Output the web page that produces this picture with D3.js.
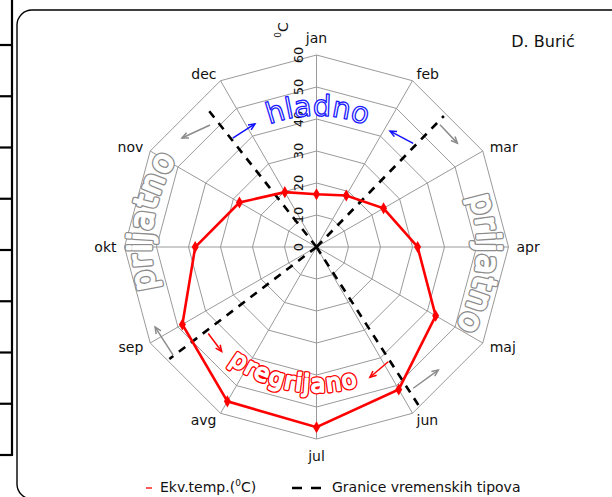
<!DOCTYPE html>
<html>
<head>
<meta charset="utf-8">
<script src="https://cdn.jsdelivr.net/npm/d3@7"></script>
<style>
  html, body { margin: 0; padding: 0; background: #fff; }
  svg { display: block; font-family: "DejaVu Sans", Verdana, sans-serif; }
</style>
</head>
<body>
<svg id="chart" width="612" height="497"></svg>
<script>
// Months around the dial (clockwise from the top)
const months = ["jan", "feb", "mar", "apr", "maj", "jun", "jul", "avg", "sep", "okt", "nov", "dec"];
// Mean equivalent temperature per month (°C)
const ekvTemp = [16.5, 18.6, 24.2, 31.6, 43.0, 51.4, 56.3, 55.7, 48.4, 37.9, 27.8, 19.8];
// Radial tick values (°C)
const radialTicks = [0, 10, 20, 30, 40, 50, 60];
// Boundaries between weather types: direction (degrees clockwise from jan) and reach (°C)
const boundaryAngle = [321.7, 44.2, 147.2, 232.7];
const boundaryReach = [56.2, 57.1, 59.1, 57.8];
// Arrows, as [from °C, from angle, to °C, to angle]
const arrowsGray = [[50.6, 318.9, 54.1, 309.0], [54.3, 45.3, 54.7, 53.6], [56.1, 233.0, 56.3, 243.6], [53.5, 145.6, 54.1, 135.3]];
const arrowsBlue = [[42.9, 322.4, 43.0, 333.4], [44.3, 43.0, 42.9, 32.4]];
const arrowsRed = [[43.3, 231.4, 44.1, 222.2], [42.3, 148.0, 44.0, 157.7]];
// Weather-type labels: text, centre angle, baseline radius (°C)
const zoneText = ["hladno", "prijatno", "prijatno", "pregrijano"];
const zoneAngle = [0.5, 96, 279, 190];
const zoneRadius = [41, 50.3, 51.8, 45.3];

const svg = d3.select("#chart");
const cx = 316.5, cy = 247;
const r = d3.scaleLinear().domain([0, 60]).range([0, 192]);
const monthAngle = d3.scaleLinear().domain([0, 12]).range([0, 360]);
const rad = deg => deg * Math.PI / 180;

function pt(v, deg) {
  return [cx + r(v) * Math.sin(rad(deg)), cy - r(v) * Math.cos(rad(deg))];
}

// Outer page frame pieces
const frame = svg.append("g");
frame.append("line").attr("x1", 12).attr("y1", 0).attr("x2", 12).attr("y2", 456)
  .attr("stroke", "#000").attr("stroke-width", 2.2);
d3.range(9).forEach(i => {
  const y = 45 + i * 51.25;
  frame.append("line").attr("x1", 0).attr("x2", 12).attr("y1", y).attr("y2", y)
    .attr("stroke", "#000").attr("stroke-width", 2.2);
});
frame.append("rect").attr("x", 17).attr("y", 10).attr("width", 660).attr("height", 489)
  .attr("rx", 15).attr("ry", 15).attr("fill", "none").attr("stroke", "#000").attr("stroke-width", 1.4);

// Grid: rings and spokes
const grid = svg.append("g").attr("stroke", "#9a9a9a").attr("stroke-width", 1).attr("fill", "none");
radialTicks.filter(t => t > 0).forEach(t => {
  const pts = months.map((m, i) => pt(t, monthAngle(i)));
  grid.append("path").attr("d", d3.line()(pts) + "Z");
});
months.forEach((m, i) => {
  const [x, y] = pt(60, monthAngle(i));
  grid.append("line").attr("x1", cx).attr("y1", cy).attr("x2", x).attr("y2", y);
});

// Month labels just outside each spoke end
const outer = radialTicks[radialTicks.length - 1];
svg.append("g").selectAll("text").data(months).join("text")
  .each(function (d, i) {
    const a = monthAngle(i);
    const s = Math.sin(rad(a)), c = Math.cos(rad(a));
    const [x, y] = pt(outer, a);
    const off = Math.abs(s) < 0.1 ? 17 : 8;
    d3.select(this)
      .attr("x", x + off * s).attr("y", y - off * c)
      .attr("text-anchor", s > 0.1 ? "start" : s < -0.1 ? "end" : "middle");
  })
  .attr("dominant-baseline", "central")
  .attr("font-size", 14).attr("fill", "#111").text(d => d);

// Radial tick labels along the jan spoke
svg.append("g").selectAll("text").data(radialTicks).join("text")
  .attr("transform", d => `translate(${cx - 18},${cy - r(d)}) rotate(-90)`)
  .attr("text-anchor", "middle").attr("dominant-baseline", "central")
  .attr("font-size", 13).attr("fill", "#111").text(d => d);

// Unit label
const unit = svg.append("text").attr("transform", "translate(283,30) rotate(-90)")
  .attr("text-anchor", "middle").attr("dominant-baseline", "central").attr("font-size", 14).attr("fill", "#111");
unit.append("tspan").attr("font-size", 9).attr("dy", -5).text("0");
unit.append("tspan").attr("dy", 5).text("C");

// Author
svg.append("text").attr("x", 543).attr("y", 46.5).attr("text-anchor", "middle")
  .attr("font-size", 16).attr("fill", "#111").text("D. Burić");

// Curved weather-type labels (hollow lettering; heavy ones get a thicker body)
const defs = svg.append("defs");
function arcPath(radius, centre, clockwise) {
  const a0 = clockwise ? centre - 90 : centre + 90;
  const a1 = clockwise ? centre + 90 : centre - 90;
  const p0 = pt(radius, a0), p1 = pt(radius, a1);
  const R = r(radius);
  return `M${p0[0]},${p0[1]} A${R},${R} 0 0 ${clockwise ? 1 : 0} ${p1[0]},${p1[1]}`;
}
const zoneStyle = [
  { color: "#1a1aff", size: 29, body: 0, spacing: 0, cw: true },
  { color: "#8c8c8c", size: 32, body: 2.0, spacing: 1.6, cw: true },
  { color: "#8c8c8c", size: 32, body: 2.0, spacing: 1.6, cw: true },
  { color: "#ff0000", size: 24, body: 1.8, spacing: 1.5, cw: false }
];
zoneText.forEach((t, i) => {
  const s = zoneStyle[i];
  defs.append("path").attr("id", "zone" + i).attr("d", arcPath(zoneRadius[i], zoneAngle[i], s.cw));
  const layers = s.body > 0
    ? [{ fill: s.color, stroke: s.color, w: s.body + 2.6 }, { fill: "#fff", stroke: "#fff", w: s.body }]
    : [{ fill: "#fff", stroke: s.color, w: 1.3 }];
  layers.forEach(L => {
    svg.append("text")
      .attr("font-size", s.size).attr("letter-spacing", s.spacing)
      .attr("fill", L.fill).attr("stroke", L.stroke).attr("stroke-width", L.w)
      .attr("stroke-linejoin", "round")
      .append("textPath").attr("href", "#zone" + i).attr("startOffset", "50%")
      .attr("text-anchor", "middle").text(t);
  });
});

// Boundary rays between weather types
svg.append("g").selectAll("line").data(boundaryAngle).join("line")
  .attr("x1", cx).attr("y1", cy)
  .attr("x2", (d, i) => pt(boundaryReach[i], d)[0])
  .attr("y2", (d, i) => pt(boundaryReach[i], d)[1])
  .attr("stroke", "#000").attr("stroke-width", 2.6).attr("stroke-dasharray", "8,7");

// Arrows
function drawArrows(list, color) {
  const g = svg.append("g").attr("stroke", color).attr("stroke-width", 1.5).attr("fill", "none");
  list.forEach(a => {
    const [x0, y0] = pt(a[0], a[1]);
    const [x1, y1] = pt(a[2], a[3]);
    const ang = Math.atan2(y1 - y0, x1 - x0);
    const L = 7, w = 0.42;
    g.append("line").attr("x1", x0).attr("y1", y0).attr("x2", x1).attr("y2", y1);
    g.append("path").attr("d",
      `M${x1 - L * Math.cos(ang - w)},${y1 - L * Math.sin(ang - w)} L${x1},${y1} L${x1 - L * Math.cos(ang + w)},${y1 - L * Math.sin(ang + w)}`);
  });
}
drawArrows(arrowsGray, "#8c8c8c");
drawArrows(arrowsBlue, "#1010ff");
drawArrows(arrowsRed, "#ff0000");

// Equivalent temperature series
const seriesPts = ekvTemp.map((v, i) => pt(v, monthAngle(i)));
svg.append("path").attr("d", d3.line()(seriesPts) + "Z")
  .attr("fill", "none").attr("stroke", "#ff0000").attr("stroke-width", 2.6);
svg.append("g").selectAll("path").data(seriesPts).join("path")
  .attr("transform", d => `translate(${d[0]},${d[1]})`)
  .attr("d", d3.symbol().type(d3.symbolDiamond).size(42))
  .attr("fill", "#ff0000");

// Legend
const leg = svg.append("g");
leg.append("line").attr("x1", 146).attr("x2", 152).attr("y1", 488).attr("y2", 488)
  .attr("stroke", "#ff0000").attr("stroke-width", 1.3);
const lt = leg.append("text").attr("x", 160).attr("y", 492).attr("font-size", 14).attr("fill", "#111");
lt.append("tspan").text("Ekv.temp.(");
lt.append("tspan").attr("font-size", 9).attr("dy", -6).text("0");
lt.append("tspan").attr("dy", 6).text("C)");
leg.append("line").attr("x1", 292).attr("x2", 323).attr("y1", 488).attr("y2", 488)
  .attr("stroke", "#000").attr("stroke-width", 2.6).attr("stroke-dasharray", "10,9");
leg.append("text").attr("x", 332).attr("y", 492).attr("font-size", 14).attr("fill", "#111")
  .text("Granice vremenskih tipova");
</script>
</body>
</html>
